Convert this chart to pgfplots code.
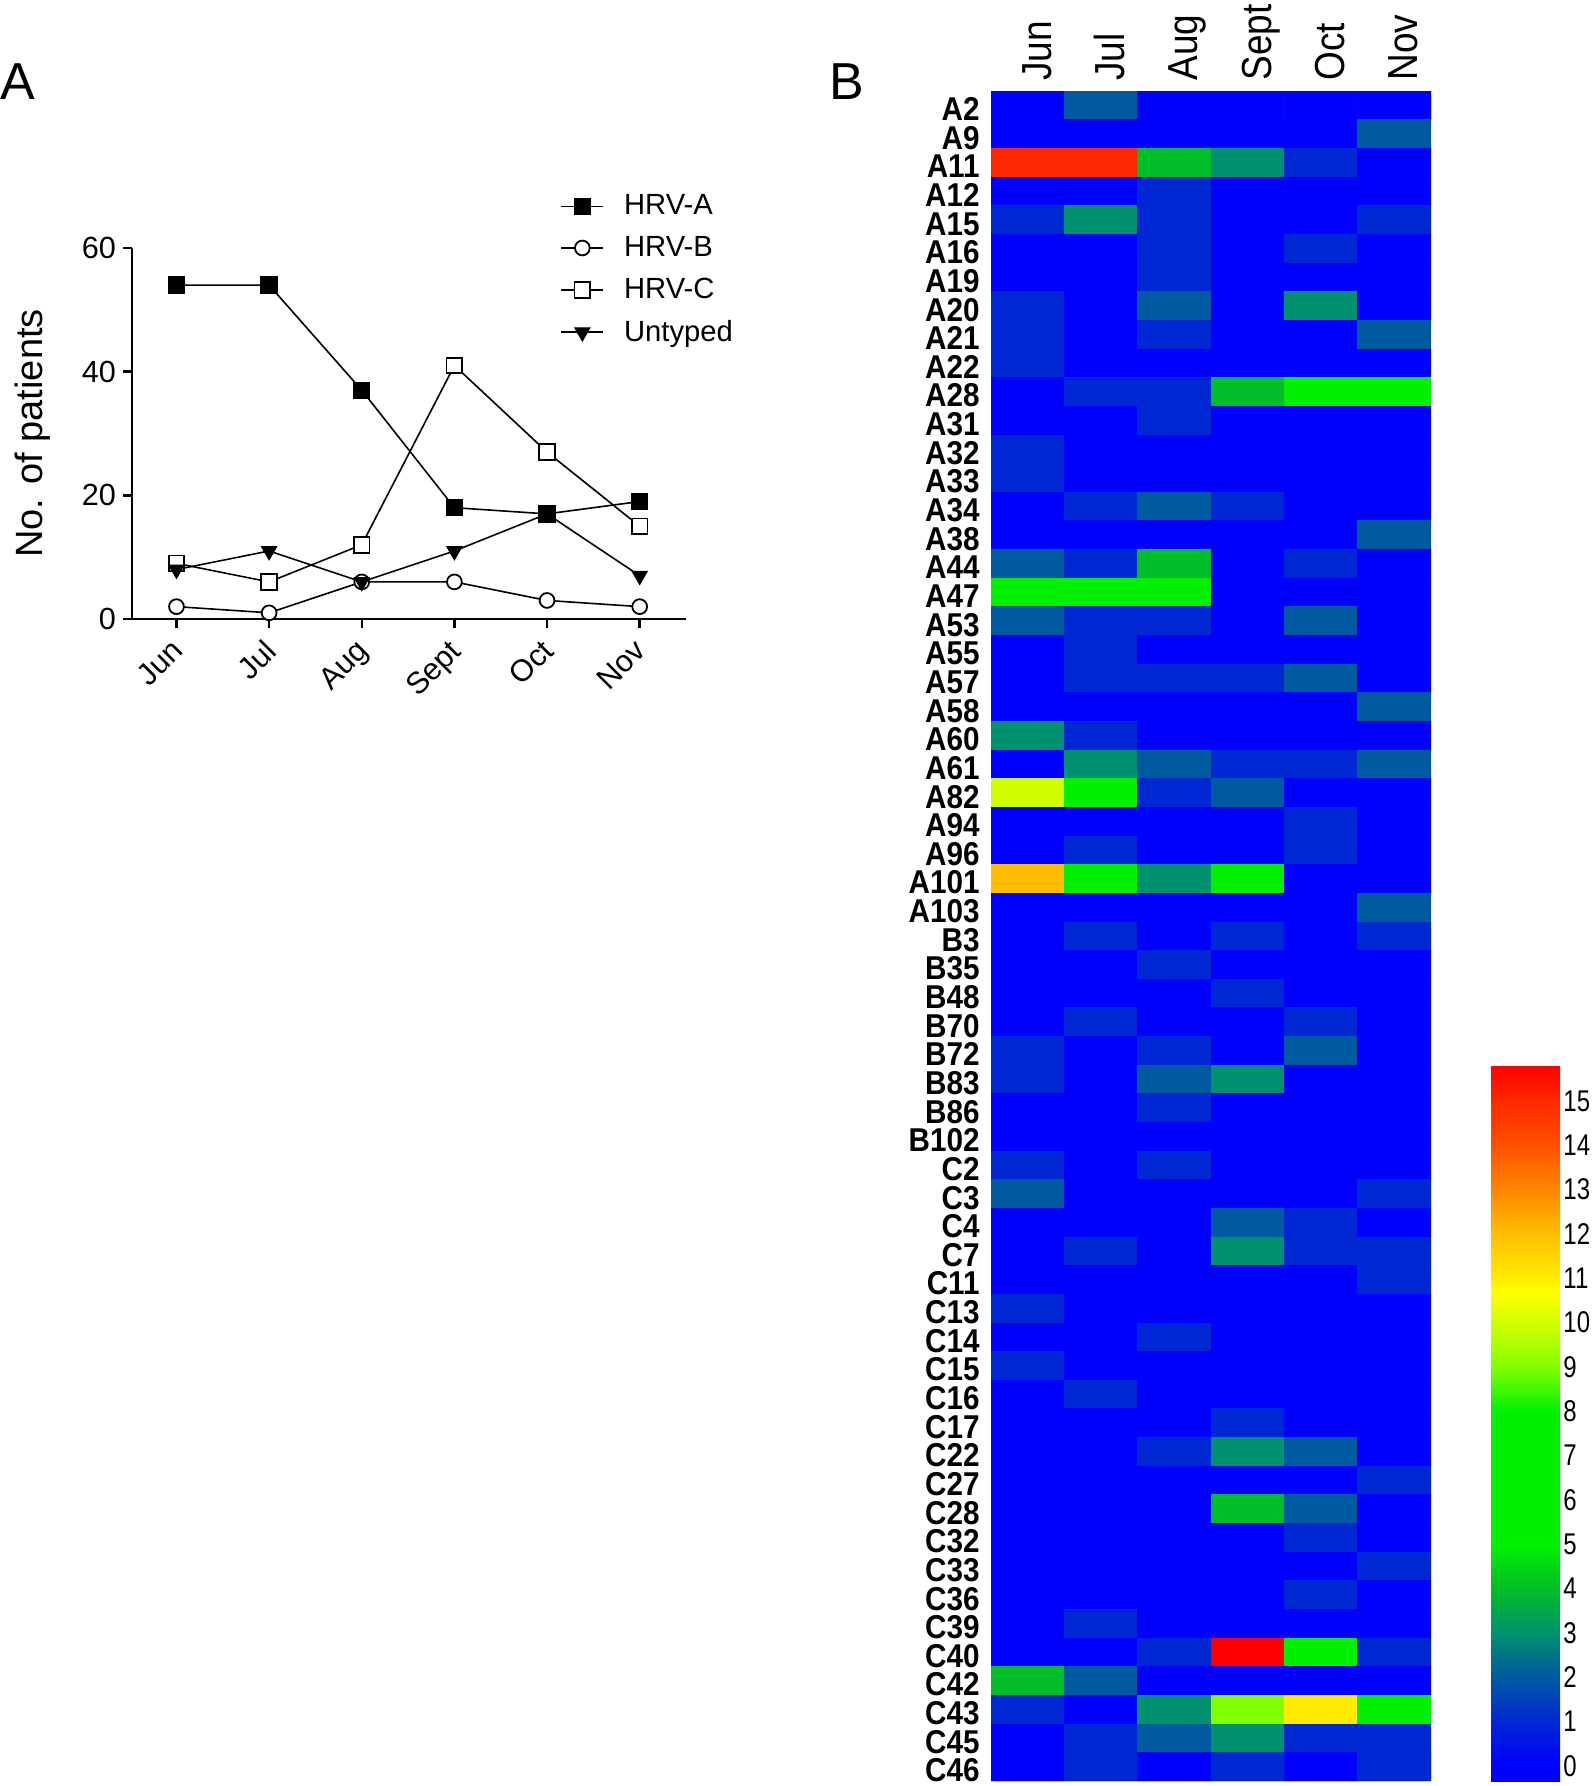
\documentclass[border=0pt]{standalone}
\usepackage{pgfplots}
\pgfplotsset{compat=1.18}
\usepackage{fontspec}
\setmainfont{Liberation Sans}
\newfontfamily\rowfont[FakeStretch=0.9]{Liberation Sans}
\newfontfamily\colfont[FakeStretch=0.88]{Liberation Sans}
\newfontfamily\cbfont[FakeStretch=0.8]{Liberation Sans}

\begin{document}
\begin{tikzpicture}
\useasboundingbox (0pt,0pt) rectangle (797pt,-893pt);

% panel letters
\node[anchor=base west, inner sep=0pt, font=\fontsize{26}{26}\selectfont] at (0pt,-50pt) {A};
\node[anchor=base west, inner sep=0pt, font=\fontsize{26}{26}\selectfont] at (414.5pt,-50pt) {B};

% A: patients per month
\begin{axis}[
  at={(66pt,-309.5pt)}, anchor=south west,
  scale only axis, width=277pt, height=185.5pt,
  xmin=-0.48, xmax=5.5, ymin=0, ymax=60,
  axis lines=left, axis line style={-, line width=1.25pt},
  tick align=outside, major tick length=4.5pt, tick style={line width=1.25pt, black},
  xtick={0,...,5}, xticklabels={Jun,Jul,Aug,Sept,Oct,Nov},
  ytick={0,20,40,60},
  /pgf/number format/assume math mode=true,
  tick label style={font=\fontsize{15.3}{15.3}\selectfont},
  xticklabel style={xshift=-3.4pt, rotate=45, anchor=north east},
  ylabel={No. of patients},
  ylabel style={at={(axis description cs:-0.18,0.5)}, anchor=center, font=\fontsize{19}{19}\selectfont},
  legend style={at={(axis description cs:0.762,0.942)}, anchor=west, draw=none, fill=none,
    font=\fontsize{14.6}{14.6}\selectfont,
    nodes={inner sep=0pt},
    row sep=9.3pt, column sep=10pt},
  legend cell align=left,
  legend image code/.code={\draw[mark repeat=2,mark phase=2] plot coordinates {(0pt,0pt) (10.5pt,0pt) (21pt,0pt)};},
  every axis plot/.append style={black, line width=0.8pt},
  clip=false,
]
\addplot[mark=square*, mark size=3.9pt, mark options={solid, fill=black, line width=0.9pt}]
  coordinates {(0,54) (1,54) (2,37) (3,18) (4,17) (5,19)};
\addlegendentry{HRV-A}
\addplot[mark=*, mark size=3.7pt, mark options={solid, fill=white, line width=0.9pt}]
  coordinates {(0,2) (1,1) (2,6) (3,6) (4,3) (5,2)};
\addlegendentry{HRV-B}
\addplot[mark=square*, mark size=3.9pt, mark options={solid, fill=white, line width=0.9pt}]
  coordinates {(0,9) (1,6) (2,12) (3,41) (4,27) (5,15)};
\addlegendentry{HRV-C}
\addplot[mark=triangle*, mark size=4.3pt, mark options={solid, fill=black, rotate=180, line width=0.6pt}]
  coordinates {(0,8) (1,11) (2,6) (3,11) (4,17) (5,7)};
\addlegendentry{Untyped}
\end{axis}

% B: genotype heat map
\begin{axis}[
  at={(495.5pt,-890.5pt)}, anchor=south west,
  scale only axis, width=220pt, height=845pt,
  xmin=-0.5, xmax=5.5, ymin=-0.5, ymax=58.5, y dir=reverse,
  axis line style={draw=none}, major tick length=0pt, tick style={draw=none},
  xtick={0,...,5}, xticklabels={Jun,Jul,Aug,Sept,Oct,Nov}, xticklabel pos=right,
  xticklabel style={xshift=11.75pt, rotate=90, anchor=base west, font=\colfont\fontsize{21}{21}\selectfont, inner xsep=5pt, inner ysep=0pt},
  ytick={0,...,58},
  yticklabels={A2,A9,A11,A12,A15,A16,A19,A20,A21,A22,A28,A31,A32,A33,A34,A38,A44,A47,A53,A55,
    A57,A58,A60,A61,A82,A94,A96,A101,A103,B3,B35,B48,B70,B72,B83,B86,B102,
    C2,C3,C4,C7,C11,C13,C14,C15,C16,C17,C22,C27,C28,C32,C33,C36,C39,C40,C42,C43,C45,C46},
  yticklabel style={yshift=-7.6pt, anchor=base east, font=\rowfont\bfseries\fontsize{16.5}{16.5}\selectfont, inner xsep=5.5pt, inner ysep=0pt},
  colormap={hrv}{
    rgb255(0cm)=(0,0,255)
    rgb255(0.34cm)=(0,0,255)
    rgb255(1.34cm)=(0,40,210)
    rgb255(2.34cm)=(0,90,160)
    rgb255(3.34cm)=(0,145,110)
    rgb255(4.34cm)=(0,190,40)
    rgb255(5.34cm)=(0,240,0)
    rgb255(8.34cm)=(0,240,0)
    rgb255(9.34cm)=(130,255,0)
    rgb255(10.34cm)=(210,255,0)
    rgb255(11.04cm)=(255,255,0)
    rgb255(11.34cm)=(255,235,0)
    rgb255(12.34cm)=(255,190,0)
    rgb255(13.34cm)=(255,135,0)
    rgb255(14.34cm)=(255,80,0)
    rgb255(15.34cm)=(255,40,0)
    rgb255(16.15cm)=(255,0,0)
  },
  point meta min=-0.34, point meta max=15.81,
  colorbar,
  colorbar/width=34.5pt,
  colorbar style={at={(parent axis.south east)}, anchor=south west, xshift=21.5pt,
    scale only axis, width=34.5pt, height=358pt,
    xmin=0, xmax=1, enlargelimits=false,
    ytick={0,...,15}, major tick length=0pt, tick style={draw=none}, axis line style={draw=none},
    /pgf/number format/assume math mode=true,
    yticklabel style={font=\cbfont\fontsize{15}{15}\selectfont, inner xsep=1.5pt, inner ysep=0pt}},
]
\addplot[matrix plot*, mesh/cols=6, point meta=explicit, shader=faceted, faceted color=mapped color, line width=0.2pt] coordinates {
(0,0)[0] (1,0)[2] (2,0)[0] (3,0)[0] (4,0)[0] (5,0)[0]
(0,1)[0] (1,1)[0] (2,1)[0] (3,1)[0] (4,1)[0] (5,1)[2]
(0,2)[15] (1,2)[15] (2,2)[4] (3,2)[3] (4,2)[1] (5,2)[0]
(0,3)[0] (1,3)[0] (2,3)[1] (3,3)[0] (4,3)[0] (5,3)[0]
(0,4)[1] (1,4)[3] (2,4)[1] (3,4)[0] (4,4)[0] (5,4)[1]
(0,5)[0] (1,5)[0] (2,5)[1] (3,5)[0] (4,5)[1] (5,5)[0]
(0,6)[0] (1,6)[0] (2,6)[1] (3,6)[0] (4,6)[0] (5,6)[0]
(0,7)[1] (1,7)[0] (2,7)[2] (3,7)[0] (4,7)[3] (5,7)[0]
(0,8)[1] (1,8)[0] (2,8)[1] (3,8)[0] (4,8)[0] (5,8)[2]
(0,9)[1] (1,9)[0] (2,9)[0] (3,9)[0] (4,9)[0] (5,9)[0]
(0,10)[0] (1,10)[1] (2,10)[1] (3,10)[4] (4,10)[7] (5,10)[7]
(0,11)[0] (1,11)[0] (2,11)[1] (3,11)[0] (4,11)[0] (5,11)[0]
(0,12)[1] (1,12)[0] (2,12)[0] (3,12)[0] (4,12)[0] (5,12)[0]
(0,13)[1] (1,13)[0] (2,13)[0] (3,13)[0] (4,13)[0] (5,13)[0]
(0,14)[0] (1,14)[1] (2,14)[2] (3,14)[1] (4,14)[0] (5,14)[0]
(0,15)[0] (1,15)[0] (2,15)[0] (3,15)[0] (4,15)[0] (5,15)[2]
(0,16)[2] (1,16)[1] (2,16)[4] (3,16)[0] (4,16)[1] (5,16)[0]
(0,17)[7] (1,17)[7] (2,17)[7] (3,17)[0] (4,17)[0] (5,17)[0]
(0,18)[2] (1,18)[1] (2,18)[1] (3,18)[0] (4,18)[2] (5,18)[0]
(0,19)[0] (1,19)[1] (2,19)[0] (3,19)[0] (4,19)[0] (5,19)[0]
(0,20)[0] (1,20)[1] (2,20)[1] (3,20)[1] (4,20)[2] (5,20)[0]
(0,21)[0] (1,21)[0] (2,21)[0] (3,21)[0] (4,21)[0] (5,21)[2]
(0,22)[3] (1,22)[1] (2,22)[0] (3,22)[0] (4,22)[0] (5,22)[0]
(0,23)[0] (1,23)[3] (2,23)[2] (3,23)[1] (4,23)[1] (5,23)[2]
(0,24)[10] (1,24)[7] (2,24)[1] (3,24)[2] (4,24)[0] (5,24)[0]
(0,25)[0] (1,25)[0] (2,25)[0] (3,25)[0] (4,25)[1] (5,25)[0]
(0,26)[0] (1,26)[1] (2,26)[0] (3,26)[0] (4,26)[1] (5,26)[0]
(0,27)[12] (1,27)[6] (2,27)[3] (3,27)[6] (4,27)[0] (5,27)[0]
(0,28)[0] (1,28)[0] (2,28)[0] (3,28)[0] (4,28)[0] (5,28)[2]
(0,29)[0] (1,29)[1] (2,29)[0] (3,29)[1] (4,29)[0] (5,29)[1]
(0,30)[0] (1,30)[0] (2,30)[1] (3,30)[0] (4,30)[0] (5,30)[0]
(0,31)[0] (1,31)[0] (2,31)[0] (3,31)[1] (4,31)[0] (5,31)[0]
(0,32)[0] (1,32)[1] (2,32)[0] (3,32)[0] (4,32)[1] (5,32)[0]
(0,33)[1] (1,33)[0] (2,33)[1] (3,33)[0] (4,33)[2] (5,33)[0]
(0,34)[1] (1,34)[0] (2,34)[2] (3,34)[3] (4,34)[0] (5,34)[0]
(0,35)[0] (1,35)[0] (2,35)[1] (3,35)[0] (4,35)[0] (5,35)[0]
(0,36)[0] (1,36)[0] (2,36)[0] (3,36)[0] (4,36)[0] (5,36)[0]
(0,37)[1] (1,37)[0] (2,37)[1] (3,37)[0] (4,37)[0] (5,37)[0]
(0,38)[2] (1,38)[0] (2,38)[0] (3,38)[0] (4,38)[0] (5,38)[1]
(0,39)[0] (1,39)[0] (2,39)[0] (3,39)[2] (4,39)[1] (5,39)[0]
(0,40)[0] (1,40)[1] (2,40)[0] (3,40)[3] (4,40)[1] (5,40)[1]
(0,41)[0] (1,41)[0] (2,41)[0] (3,41)[0] (4,41)[0] (5,41)[1]
(0,42)[1] (1,42)[0] (2,42)[0] (3,42)[0] (4,42)[0] (5,42)[0]
(0,43)[0] (1,43)[0] (2,43)[1] (3,43)[0] (4,43)[0] (5,43)[0]
(0,44)[1] (1,44)[0] (2,44)[0] (3,44)[0] (4,44)[0] (5,44)[0]
(0,45)[0] (1,45)[1] (2,45)[0] (3,45)[0] (4,45)[0] (5,45)[0]
(0,46)[0] (1,46)[0] (2,46)[0] (3,46)[1] (4,46)[0] (5,46)[0]
(0,47)[0] (1,47)[0] (2,47)[1] (3,47)[3] (4,47)[2] (5,47)[0]
(0,48)[0] (1,48)[0] (2,48)[0] (3,48)[0] (4,48)[0] (5,48)[1]
(0,49)[0] (1,49)[0] (2,49)[0] (3,49)[4] (4,49)[2] (5,49)[0]
(0,50)[0] (1,50)[0] (2,50)[0] (3,50)[0] (4,50)[1] (5,50)[0]
(0,51)[0] (1,51)[0] (2,51)[0] (3,51)[0] (4,51)[0] (5,51)[1]
(0,52)[0] (1,52)[0] (2,52)[0] (3,52)[0] (4,52)[1] (5,52)[0]
(0,53)[0] (1,53)[1] (2,53)[0] (3,53)[0] (4,53)[0] (5,53)[0]
(0,54)[0] (1,54)[0] (2,54)[1] (3,54)[16] (4,54)[7] (5,54)[1]
(0,55)[4] (1,55)[2] (2,55)[0] (3,55)[0] (4,55)[0] (5,55)[0]
(0,56)[1] (1,56)[0] (2,56)[3] (3,56)[9] (4,56)[11] (5,56)[7]
(0,57)[0] (1,57)[1] (2,57)[2] (3,57)[3] (4,57)[1] (5,57)[1]
(0,58)[0] (1,58)[1] (2,58)[0] (3,58)[1] (4,58)[0] (5,58)[1]
};
\end{axis}
\end{tikzpicture}
\end{document}
